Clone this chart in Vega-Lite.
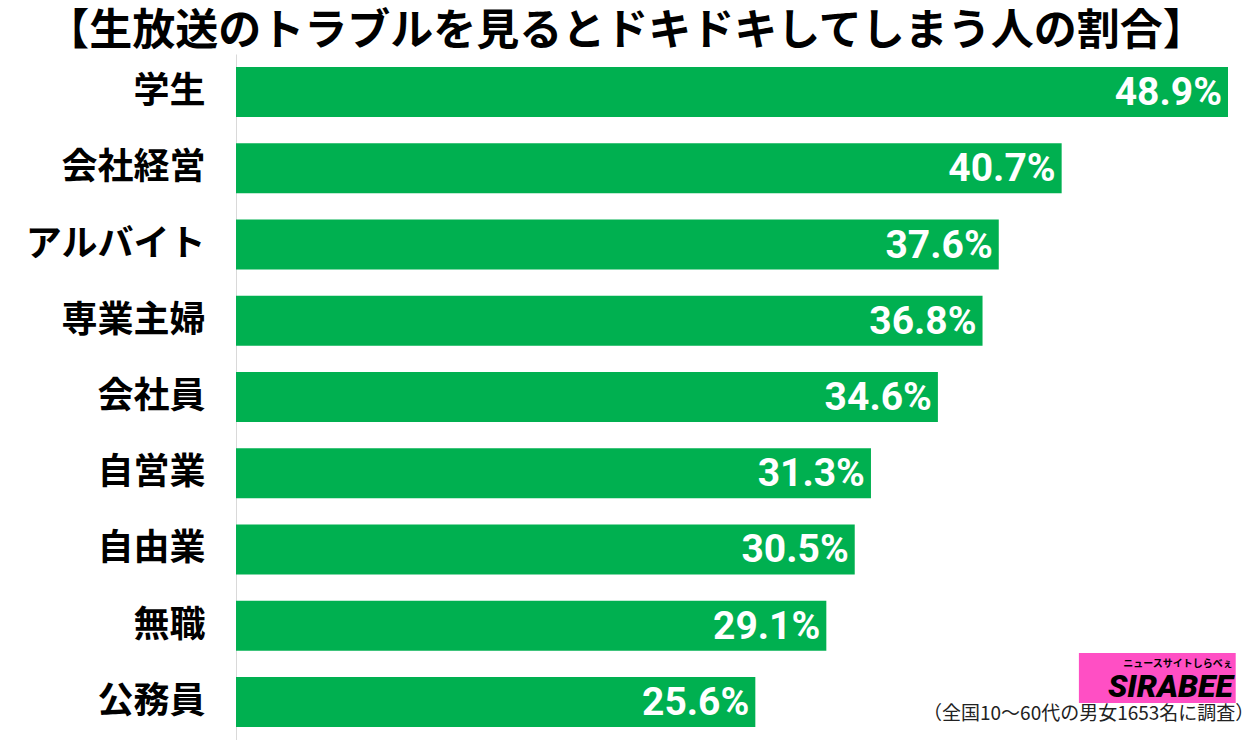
{
  "$schema": "https://vega.github.io/schema/vega-lite/v6.json",
  "autosize": "none",
  "width": 992,
  "height": 686,
  "padding": {"left": 236, "top": 54, "right": 21, "bottom": 0},
  "background": "white",
  "title": {
    "text": "【生放送のトラブルを見るとドキドキしてしまう人の割合】",
    "font": "Noto Sans CJK JP",
    "fontWeight": "bold",
    "fontSize": 43,
    "color": "black",
    "anchor": "middle",
    "frame": "group",
    "dx": -106,
    "offset": 0
  },
  "config": {
    "view": {"stroke": null}
  },
  "layer": [
    {
      "data": {
        "values": [
          {"category": "学生", "value": 48.9},
          {"category": "会社経営", "value": 40.7},
          {"category": "アルバイト", "value": 37.6},
          {"category": "専業主婦", "value": 36.8},
          {"category": "会社員", "value": 34.6},
          {"category": "自営業", "value": 31.3},
          {"category": "自由業", "value": 30.5},
          {"category": "無職", "value": 29.1},
          {"category": "公務員", "value": 25.6}
        ]
      },
      "transform": [{"calculate": "format(datum.value, '.1f') + '%'", "as": "label"}],
      "layer": [
        {
          "mark": {"type": "bar", "color": "#00B050"},
          "encoding": {
            "x": {"field": "value", "type": "quantitative", "scale": {"domain": [0, 48.9], "nice": false, "zero": true}, "axis": null},
            "y": {"field": "category", "type": "nominal", "sort": null,
              "scale": {"paddingInner": 0.344, "paddingOuter": 0.172},
              "axis": {"title": null, "ticks": false, "domainColor": "#d9d9d9", "domainWidth": 1,
                "labelFont": "Noto Sans CJK JP", "labelFontWeight": "bold", "labelFontSize": 36,
                "labelColor": "black", "labelPadding": 31, "labelLimit": 400}}
          }
        },
        {
          "mark": {"type": "text", "align": "right", "baseline": "middle", "dx": -6, "dy": 1,
            "font": "Roboto", "fontWeight": "bold", "fontSize": 39, "color": "white"},
          "encoding": {
            "x": {"field": "value", "type": "quantitative"},
            "y": {"field": "category", "type": "nominal", "sort": null},
            "text": {"field": "label"}
          }
        }
      ]
    },
    {
      "data": {"values": [{"logo": "SIRABEE", "tag": "ニュースサイトしらべぇ"}]},
      "layer": [
        {
          "mark": {"type": "rect", "color": "#FF4FC4", "yOffset": -24},
          "encoding": {
            "x": {"datum": 41.55, "type": "quantitative"},
            "x2": {"datum": 49.28},
            "y": {"datum": "公務員", "type": "nominal"}
          }
        },
        {
          "mark": {"type": "text", "align": "right", "baseline": "middle", "dy": -15,
            "font": "Roboto", "fontWeight": "900", "fontStyle": "italic", "fontSize": 32, "color": "black"},
          "encoding": {
            "x": {"datum": 49.14, "type": "quantitative"},
            "y": {"datum": "公務員", "type": "nominal"},
            "text": {"field": "logo"}
          }
        },
        {
          "mark": {"type": "text", "align": "right", "baseline": "middle", "dy": -38,
            "font": "Noto Sans CJK JP", "fontWeight": "bold", "fontSize": 10, "color": "black"},
          "encoding": {
            "x": {"datum": 49.14, "type": "quantitative"},
            "y": {"datum": "公務員", "type": "nominal"},
            "text": {"field": "tag"}
          }
        }
      ]
    },
    {
      "data": {"values": [{"note": "（全国10～60代の男女1653名に調査）"}]},
      "mark": {"type": "text", "align": "right", "baseline": "middle", "dy": 12,
        "font": "Noto Sans CJK JP", "fontSize": 19, "color": "#222222"},
      "encoding": {
        "x": {"datum": 50.2, "type": "quantitative"},
        "y": {"datum": "公務員", "type": "nominal"},
        "text": {"field": "note"}
      }
    }
  ]
}
